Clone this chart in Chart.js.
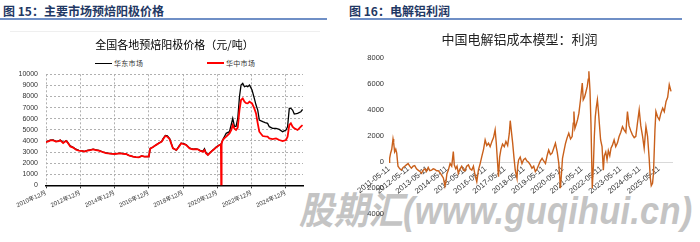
<!DOCTYPE html>
<html><head><meta charset="utf-8">
<script src="https://cdn.jsdelivr.net/npm/chart.js@4.4.1/dist/chart.umd.min.js"></script>
<style>
html,body{margin:0;padding:0;background:#fff;}
body{width:700px;height:242px;position:relative;overflow:hidden;font-family:'Liberation Sans','Noto Sans CJK SC',sans-serif;}
.hdr{position:absolute;top:3px;font-weight:bold;font-size:12px;color:#1f3864;font-family:'Noto Sans CJK SC',sans-serif;line-height:16px;white-space:nowrap;}
.rule{position:absolute;top:18px;height:2px;background:#6f8fc6;}
.frame{position:absolute;left:10px;top:31px;width:310px;height:1px;background:#efefef;}
.lgline{position:absolute;width:17px;}
.lgtxt{position:absolute;font-size:7px;line-height:9px;color:#333;font-family:'Noto Sans CJK SC',sans-serif;letter-spacing:0.3px;white-space:nowrap;}
#wm{position:absolute;left:299px;top:192px;font-style:italic;font-weight:bold;font-size:34.5px;line-height:34px;letter-spacing:0.2px;color:#c4c4c4;white-space:nowrap;font-family:'Liberation Sans','Noto Sans CJK SC',sans-serif;transform:scaleY(1.1);transform-origin:left top;z-index:0;}
canvas{position:absolute;z-index:1;}
</style></head>
<body>
<div class="hdr" style="left:3px">图 15：主要市场预焙阳极价格</div>
<div class="rule" style="left:0;width:327px"></div>
<div class="hdr" style="left:349px">图 16：电解铝利润</div>
<div class="rule" style="left:350px;width:332px"></div>
<div class="frame"></div>
<div id="wm">股期汇(www.guqihui.cn)</div>
<div class="lgline" style="left:95px;top:62.5px;height:1.5px;background:#000"></div>
<div class="lgtxt" style="left:114px;top:58.5px">华东市场</div>
<div class="lgline" style="left:207px;top:62px;height:2px;background:#ff0000"></div>
<div class="lgtxt" style="left:226px;top:58.5px">华中市场</div>
<canvas id="c1" width="320" height="212" style="left:0;top:30px"></canvas>
<canvas id="c2" width="348" height="220" style="left:345px;top:22px"></canvas>
<script>
// ---- Left chart: 全国各地预焙阳极价格 (x = months since 2010-12) ----
const anodeMonths = [0,2,3,5,7,9,10,12,14,15,17,19,21,23,25,27,29,31,33,35,37,40,42,45,48,50,52,54,56,58,61,63,65,67,69,71,72,73,75,77,79,81,82,83.6,85,86.6,88.9,91.3,93,94.7,96.5,98.2,100.6,102.9,105,106.4,108,109.9,111,112,113.4,115.7,117.5,119.2,121.5,122.5,122.7,123,123.8,125,126.2,128.5,129.8,130.8,132,133.1,134.3,135.5,136.6,137.8,139,140.2,141.3,142.5,144.3,145.9,147.1,148.3,149.4,151.8,153.5,155.2,156.4,158.7,161.1,163.4,165.7,168.1,169.2,170.4,171.5,172.7,173.9,176.2,178.5,179.7];
const eastPrice = [3900,4000,4080,4100,3950,4000,4080,3850,4000,3900,3550,3420,3250,3150,3100,3050,3150,3200,3250,3200,3150,3000,2920,2850,2830,2850,2900,2850,2820,2700,2580,2540,2520,2640,2580,2600,2580,3330,3450,3630,3800,3950,4200,4480,4450,4200,3350,3150,3500,3800,3750,3650,3350,3250,3280,3240,3150,3050,3300,2950,2750,3050,3250,3450,3650,3700,3750,3800,4100,4400,4680,4830,5500,6030,5300,5300,6000,7980,9030,9180,8880,8950,8880,9030,8580,7830,7230,6780,5880,5730,5650,5580,5280,5130,5130,5040,4830,4980,5280,6930,6930,6780,6420,6480,6630,6830];
const centralPrice = [3880,3980,4050,4050,3930,3980,4050,3800,4000,3880,3500,3400,3200,3120,3100,3030,3120,3180,3240,3180,3120,2980,2900,2850,2820,2850,2880,2830,2820,2700,2580,2540,2520,2640,2580,2580,2580,3300,3450,3620,3780,3930,4150,4440,4380,4150,3330,3180,3450,3780,3700,3630,3330,3240,3250,3240,3100,3030,3180,2900,2730,3030,3220,3420,3630,3680,0,3800,4080,4250,4380,4680,5000,5430,5100,4980,5200,6780,7680,7830,7530,7400,7380,7530,7380,6930,6480,5580,4830,4440,4400,4380,4230,4170,4230,4080,3990,4080,4380,5430,5580,5280,5130,4980,5280,5430];
const anodeTickLabels = ['2010年12月','2012年12月','2014年12月','2016年12月','2018年12月','2020年12月','2022年12月','2024年12月'];
const anodeSeriesNames = ['华东市场','华中市场'];

// ---- Right chart: 中国电解铝成本模型：利润 (x = months since 2011-05-11) ----
const profitMonths = [0,0.4,1.0,1.7,2.5,2.9,3.5,4.2,4.8,5.6,6.7,7.7,8.8,9.8,10.8,11.9,12.9,13.9,15.0,16.0,17.1,18.1,19.2,20.2,21.3,22.3,23.3,24.4,25.4,26.5,27.5,28.5,29.6,30.6,31.7,32.7,33.8,34.8,35.4,36.0,36.9,38.0,39.0,40.0,40.6,41.5,42.3,43.1,44.2,45.2,46.3,47.3,48.3,49.4,50.4,51.5,52.5,53.5,54.6,55.6,56.7,57.7,58.8,59.8,60.8,61.9,62.9,64.0,65.0,66.0,66.7,67.5,68.1,68.8,69.6,70.6,71.7,72.7,73.8,74.8,75.4,76.1,76.9,77.7,78.5,79.6,80.0,80.6,81.6,82.7,83.7,84.8,85.8,86.8,87.9,88.9,90.0,91.0,92.1,93.1,94.1,95.2,96.2,97.3,98.3,99.3,100.4,101.4,102.5,103.5,104.6,105.6,106.2,106.6,107.3,107.9,108.7,109.8,110.8,111.8,112.9,113.9,114.6,115.0,115.6,116.4,117.3,118.1,119.1,120.2,120.8,121.6,122.3,123.3,123.9,124.3,125.0,125.6,126.0,126.4,127.1,127.7,128.3,128.9,129.6,130.2,130.8,131.6,132.5,133.3,133.9,134.8,135.6,136.4,137.3,138.1,138.9,140.0,141.0,142.1,143.1,144.1,145.2,146.2,147.3,148.3,149.3,150.4,151.4,152.5,153.5,154.5,155.6,156.6,157.7,158.7,159.8,160.8,161.8,162.5,163.1,163.9,164.5,165.4,166.0,167.0,168.1,169.1,170.2,171.2,172.3,173.3,174.3,175.4];
const profitValues = [0,300,700,1000,1800,1500,800,1000,700,-300,-500,-600,-400,-300,-200,-100,-300,-450,-300,-250,-500,-600,-700,-850,-600,-500,-700,-400,-650,-600,-500,-550,-650,-640,-800,-980,-1200,-1830,-1500,-900,-600,-100,-300,820,-200,-500,-300,-850,-500,-300,-600,-650,-300,-200,-500,-600,-300,-980,-1490,-600,-100,440,1000,1720,1300,1470,1200,1600,1900,2500,1500,0,-1100,400,1000,1400,1200,1600,1300,2200,3200,2400,1500,400,-590,-1240,-300,180,400,-100,200,310,100,0,-200,-460,-300,-720,-500,-200,100,310,100,-100,500,950,600,700,1100,1470,800,-80,-1200,-2000,-800,300,800,1470,1900,2240,1800,1980,3000,3910,2600,2900,3300,3780,4810,6100,4800,5000,5330,5840,6400,7000,5500,3000,500,-2000,-300,2000,3500,4200,4810,4000,3000,1720,1210,-600,500,800,200,900,500,1100,1300,1720,1200,1500,1980,2300,2750,2500,2300,3910,2800,2400,2110,1900,2000,3000,4040,2800,2000,1080,2750,2000,300,-1200,-1800,-1620,-800,2500,3910,3500,3270,3780,4170,3900,4680,5000,5970,5460];
const profitTickLabels = ['2011-05-11','2012-05-11','2013-05-11','2014-05-11','2015-05-11','2016-05-11','2017-05-11','2018-05-11','2019-05-11','2020-05-11','2021-05-11','2022-05-11','2023-05-11','2024-05-11','2025-05-11'];

const tickFont = "'Liberation Sans','Noto Sans CJK SC',sans-serif";
const titleFont = "'Noto Sans CJK SC',sans-serif";
const pts = (xs, ys) => xs.map((x, i) => ({x: x, y: ys[i]}));

new Chart(document.getElementById('c1'), {
  type: 'line',
  data: { datasets: [
    {label: anodeSeriesNames[0], data: pts(anodeMonths, eastPrice), borderColor: '#000000', borderWidth: 1.3, pointRadius: 0, tension: 0, order: 1},
    {label: anodeSeriesNames[1], data: pts(anodeMonths, centralPrice), borderColor: '#ff0000', borderWidth: 1.8, pointRadius: 0, tension: 0, order: 0}
  ]},
  options: {
    responsive: false, animation: false, events: [],
    layout: {padding: {left: 0, right: 17, top: 0, bottom: 0}},
    plugins: {
      legend: {display: false}, tooltip: {enabled: false},
      title: {display: true, text: '全国各地预焙阳极价格（元/吨）', fullSize: false, color: '#000',
        font: {family: titleFont, size: 11, weight: 'normal'}, padding: {top: 8.4, bottom: 22.7}}
    },
    scales: {
      x: {type: 'linear', min: 0, max: 180,
        afterFit(s) { s.height = 56.7; },
        ticks: {stepSize: 24, includeBounds: false, autoSkip: false, minRotation: 24, maxRotation: 24,
          font: {family: tickFont, size: 6}, color: '#333', padding: 1,
          callback: (v) => anodeTickLabels[Math.round(v / 24)]},
        grid: {color: '#b0b0b0', lineWidth: 1, drawTicks: true, tickLength: 3, tickColor: '#000', tickWidth: 0.8, tickBorderDash: []},
        border: {display: true, color: '#000', width: 1.5, dash: [2, 2]}},
      y: {min: 0, max: 10000,
        afterFit(s) { s.width = 46; },
        ticks: {stepSize: 1000, autoSkip: false, font: {family: tickFont, size: 7}, color: '#333', padding: 8, callback: (v) => String(v)},
        grid: {color: (c) => (c.tick && c.tick.value === 0) ? 'rgba(0,0,0,0)' : '#b0b0b0', lineWidth: 1, drawTicks: false},
        border: {display: false, dash: [2, 2]}}
    }
  }
});

new Chart(document.getElementById('c2'), {
  type: 'line',
  data: { datasets: [
    {label: '利润', data: pts(profitMonths, profitValues), borderColor: '#c9601b', borderWidth: 1.4, pointRadius: 0, tension: 0}
  ]},
  options: {
    responsive: false, animation: false, events: [],
    layout: {padding: {left: 22, right: 21, top: 0, bottom: 27.7}},
    plugins: {
      legend: {display: false}, tooltip: {enabled: false},
      title: {display: true, text: '中国电解铝成本模型：利润', color: '#222',
        font: {family: titleFont, size: 13, weight: 'normal'}, padding: {top: 9.2, bottom: 11.5}}
    },
    scales: {
      x: {type: 'linear', position: {y: 0}, min: 0, max: 176,
        afterFit(s) { s.height = 0; },
        ticks: {stepSize: 12, maxTicksLimit: 16, includeBounds: false, autoSkip: false, minRotation: 38, maxRotation: 38,
          font: {family: tickFont, size: 7.8}, color: '#333', padding: 2,
          callback: (v) => profitTickLabels[Math.round(v / 12)]},
        grid: {display: false, drawTicks: false},
        border: {display: true, color: '#d9d9d9', width: 1}},
      y: {min: -4000, max: 8000,
        afterFit(s) { s.width = 22; },
        ticks: {stepSize: 2000, autoSkip: false, font: {family: tickFont, size: 7.5}, color: '#333', padding: 5, callback: (v) => String(v)},
        grid: {display: false, drawTicks: false},
        border: {display: false}}
    }
  }
});
</script>
</body></html>
